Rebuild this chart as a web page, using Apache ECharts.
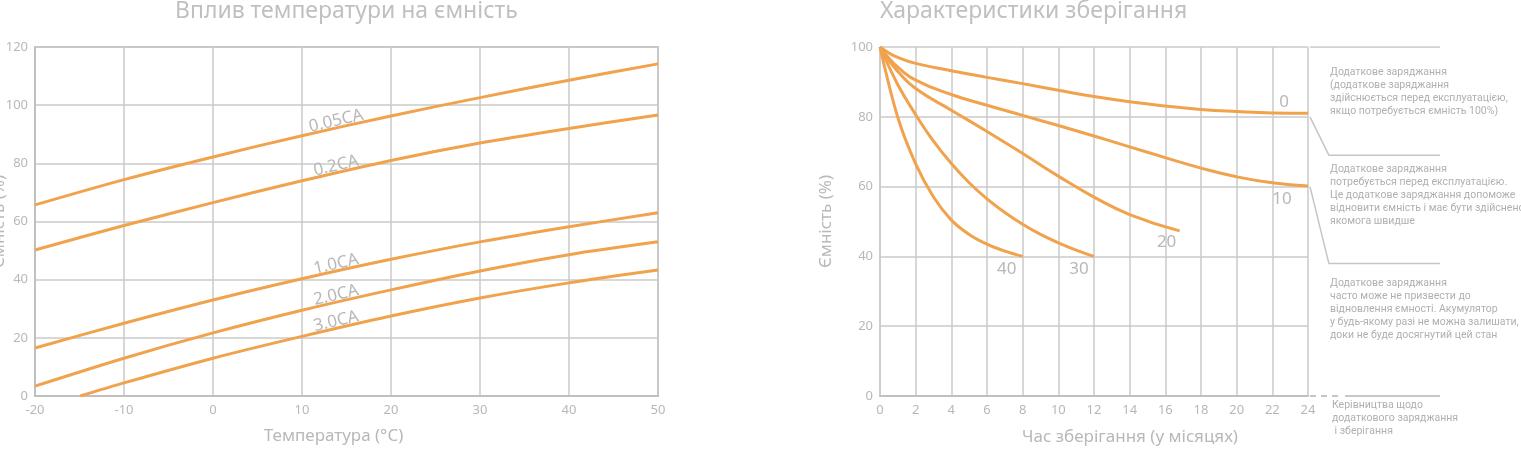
<!DOCTYPE html>
<html>
<head>
<meta charset="utf-8">
<script src="https://cdn.jsdelivr.net/npm/echarts@6/dist/echarts.min.js"></script>
<style>
  html, body { margin: 0; padding: 0; background: #fff; }
  #chart { width: 1521px; height: 449px; }
</style>
</head>
<body>
<div id="chart"></div>
<script>
// Temperature effect on capacity (left chart)
const tempX = [-20, -10, 0, 10, 20, 30, 40, 50];
const ca005 = [65.7, 74.4, 82.2, 89.5, 96.3, 102.6, 108.6, 114.2];
const ca02 = [50.2, 58.6, 66.5, 74.0, 81.0, 87.0, 92.0, 96.6];
const ca10 = [16.5, 25.0, 33.0, 40.3, 47.0, 53.0, 58.2, 63.0];
const ca20 = [3.4, 13.0, 21.7, 29.5, 36.5, 43.0, 48.6, 53.0];
const ca30 = [null, 4.5, 13.0, 20.5, 27.5, 33.7, 38.9, 43.3];
const ca30Start = [-14.9, 0];
const caNames = ['0.05CA', '0.2CA', '1.0CA', '2.0CA', '3.0CA'];

// Storage characteristics (right chart)
const months0 = [0, 0.5, 1, 2, 4, 6, 8, 10, 12, 14, 16, 18, 20, 22, 24];
const cap0 = [100, 98.3, 97.0, 95.3, 93.2, 91.3, 89.5, 87.6, 85.8, 84.3, 83.1, 82.1, 81.5, 81.1, 81.0];
const cap10 = [100, 96.8, 94.2, 90.5, 86.4, 83.3, 80.4, 77.5, 74.5, 71.4, 68.3, 65.3, 62.8, 61.1, 60.2];
const months20 = [0, 0.5, 1, 2, 4, 6, 8, 10, 12, 14, 16.8];
const cap20 = [100, 96.2, 93.0, 88.1, 81.9, 75.8, 69.5, 63.0, 57.0, 52.0, 47.3];
const months30 = [0, 1, 2, 3, 4, 5, 6, 7, 8, 9, 10, 11, 12];
const cap30 = [100, 89.2, 80.6, 73.0, 66.6, 61.1, 56.5, 52.6, 49.2, 46.3, 43.9, 41.8, 40.0];
const months40 = [0, 1, 2, 3, 4, 5, 6, 7, 8];
const cap40 = [100, 79.8, 66.5, 57.0, 50.4, 46.3, 43.5, 41.5, 40.0];
const storNames = ['0', '10', '20', '30', '40'];

// Guide lines to the notes: level on the chart edge -> level of the note line
const guideFrom = [100, 80, 60];
const guideTo = [100, 69, 38];

const notes = [
  'Додаткове заряджання\n(додаткове заряджання\nздійснюється перед експлуатацією,\nякщо потребується ємність 100%)',
  'Додаткове заряджання\nпотребується перед експлуатацією.\nЦе додаткове заряджання допоможе\nвідновити ємність і має бути здійснено\nякомога швидше',
  'Додаткове заряджання\nчасто може не призвести до\nвідновлення ємності. Акумулятор\nу будь-якому разі не можна залишати,\nдоки не буде досягнутий цей стан',
  'Керівництва щодо\nдодаткового заряджання\n і зберігання'
];

const ORANGE = '#f0a24d';
const GREY = '#b8b8b8';
const GRID = '#cacaca';
const FONT = '"Noto Sans", sans-serif';

function pairs(xs, ys) {
  return xs.map((x, i) => [x, ys[i]]).filter(p => p[1] !== null);
}
function valueAt(ys, t) {
  for (let i = 0; i < tempX.length - 1; i++) {
    if (t >= tempX[i] && t <= tempX[i + 1] && ys[i] !== null) {
      const k = (t - tempX[i]) / (tempX[i + 1] - tempX[i]);
      return ys[i] + k * (ys[i + 1] - ys[i]);
    }
  }
  return null;
}

const chart = echarts.init(document.getElementById('chart'));

const axisLabel = { color: GREY, fontSize: 13, fontFamily: FONT };
const nameStyle = { color: GREY, fontSize: 17, fontFamily: FONT };

const leftSets = [ca005, ca02, ca10, ca20, ca30];
const leftSeries = leftSets.map((ys, i) => {
  let data = pairs(tempX, ys);
  if (ys === ca30) data = [ca30Start].concat(data);
  const lx = 14;
  return {
    type: 'line', xAxisIndex: 0, yAxisIndex: 0,
    data: data, smooth: 0.3, showSymbol: false, silent: true,
    lineStyle: { color: ORANGE, width: 3 },
    markPoint: {
      symbol: 'circle', symbolSize: 1, itemStyle: { color: 'rgba(0,0,0,0)' },
      label: {
        show: true, formatter: caNames[i], rotate: 13, offset: [0, -7],
        color: GREY, fontSize: 17, fontFamily: FONT
      },
      data: [{ coord: [lx, valueAt(ys, lx)] }]
    }
  };
});

const rightSets = [
  [months0, cap0, [-24, -11], 0.5],
  [months0, cap10, [-26, 13], 0.5],
  [months20, cap20, [-13, 11], 0.5],
  [months30, cap30, [-15, 13], 0.35],
  [months40, cap40, [-16, 13], 0.35]
];
const rightSeries = rightSets.map((s, i) => {
  const data = pairs(s[0], s[1]);
  const last = data[data.length - 1];
  return {
    type: 'line', xAxisIndex: 1, yAxisIndex: 1,
    data: data, smooth: s[3], showSymbol: false, silent: true,
    lineStyle: { color: ORANGE, width: 3 },
    markPoint: {
      symbol: 'circle', symbolSize: 1, itemStyle: { color: 'rgba(0,0,0,0)' },
      label: {
        show: true, formatter: storNames[i], offset: s[2],
        color: GREY, fontSize: 17, fontFamily: FONT
      },
      data: [{ coord: last }]
    }
  };
});

const guideSeries = guideFrom.map((v, i) => ({
  type: 'line', xAxisIndex: 2, yAxisIndex: 2, silent: true, showSymbol: false,
  data: v === guideTo[i] ? [[0, v], [1, v]] : [[0, v], [0.145, guideTo[i]], [1, guideTo[i]]],
  lineStyle: { color: '#c3c6c6', width: 1.5 }
}));
guideSeries.push({
  type: 'line', xAxisIndex: 2, yAxisIndex: 2, silent: true, showSymbol: false,
  data: [[0, 0], [0.24, 0]],
  lineStyle: { color: '#c3c6c6', width: 2, type: [6, 5] }
});
guideSeries.push({
  type: 'line', xAxisIndex: 2, yAxisIndex: 2, silent: true, showSymbol: false,
  data: [[0.27, 0], [1, 0]],
  lineStyle: { color: '#c8c8c8', width: 2 }
});

const noteTops = [66, 163, 277, 399];
const noteLeft = [1330, 1330, 1330, 1332];

chart.setOption({
  animation: false,
  title: [
    {
      text: 'Вплив температури на ємність', left: 170, top: -5,
      textStyle: { color: '#c0c0c0', fontSize: 23, fontWeight: 'normal', fontFamily: FONT }
    },
    {
      text: 'Характеристики зберігання', left: 875, top: -5,
      textStyle: { color: '#c0c0c0', fontSize: 23, fontWeight: 'normal', fontFamily: FONT }
    }
  ],
  grid: [
    { left: 35, top: 47, width: 623, height: 349, outerBoundsMode: 'none', show: true, borderColor: '#c4c4c4', borderWidth: 2 },
    { left: 880, top: 47, width: 428, height: 349, outerBoundsMode: 'none' },
    { left: 1310, top: 47, width: 130, height: 349, outerBoundsMode: 'none' }
  ],
  xAxis: [
    {
      gridIndex: 0, type: 'value', min: -20, max: 50, interval: 10,
      name: 'Температура (°C)', nameLocation: 'middle', nameGap: 32,
      nameTextStyle: Object.assign({ padding: [0, 26, 0, 0] }, nameStyle),
      axisLine: { onZero: false, lineStyle: { color: '#c0c0c0', width: 2 } },
      axisTick: { show: false },
      axisLabel: Object.assign({ margin: 8 }, axisLabel),
      splitLine: { lineStyle: { color: GRID, width: 1.5 } }
    },
    {
      gridIndex: 1, type: 'value', min: 0, max: 24, interval: 2,
      name: 'Час зберігання (у місяцях)', nameLocation: 'middle', nameGap: 33,
      nameTextStyle: Object.assign({ padding: [0, 0, 0, 72] }, nameStyle),
      axisLine: { onZero: false, lineStyle: { color: '#c0c0c0', width: 2 } },
      axisTick: { show: false },
      axisLabel: Object.assign({ margin: 8 }, axisLabel),
      splitLine: { lineStyle: { color: GRID, width: 1.5 } }
    },
    { gridIndex: 2, type: 'value', min: 0, max: 1, show: false }
  ],
  yAxis: [
    {
      gridIndex: 0, type: 'value', min: 0, max: 120, interval: 20,
      name: 'Ємність (%)', nameLocation: 'middle', nameGap: 27, nameMoveOverlap: false,
      nameTextStyle: nameStyle,
      axisLine: { show: true, onZero: false, lineStyle: { color: '#c0c0c0', width: 2 } },
      axisTick: { show: false },
      axisLabel: Object.assign({ margin: 7 }, axisLabel),
      splitLine: { lineStyle: { color: GRID, width: 1.5 } }
    },
    {
      gridIndex: 1, type: 'value', min: 0, max: 100, interval: 20,
      name: 'Ємність (%)', nameLocation: 'middle', nameGap: 45,
      nameTextStyle: nameStyle,
      axisLine: { show: true, onZero: false, lineStyle: { color: GRID, width: 1.5 } },
      axisTick: { show: false },
      axisLabel: Object.assign({ margin: 7 }, axisLabel),
      splitLine: { lineStyle: { color: GRID, width: 1.5 } }
    },
    { gridIndex: 2, type: 'value', min: 0, max: 100, show: false }
  ],
  graphic: notes.map((t, i) => ({
    type: 'text', left: noteLeft[i], top: noteTops[i], silent: true,
    style: { text: t, fill: '#b0b0b0', font: '10.5px Roboto', lineHeight: 13 }
  })),
  series: leftSeries.concat(rightSeries, guideSeries)
});

window.addEventListener('resize', function () {
  chart.resize();
});
</script>
</body>
</html>
